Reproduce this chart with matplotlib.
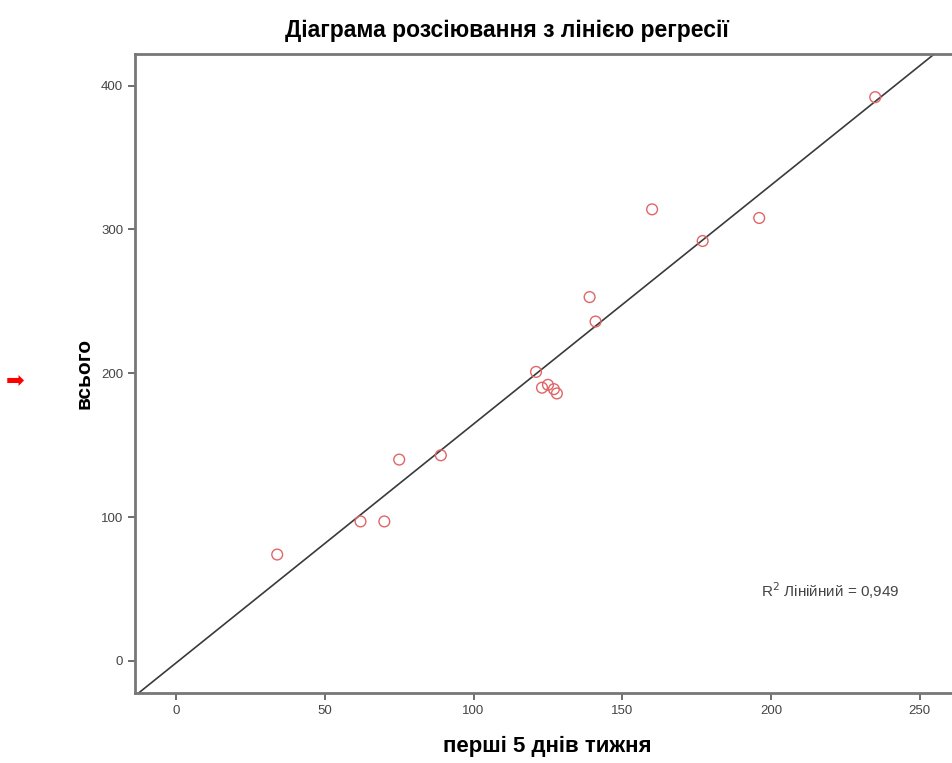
import numpy as np
import matplotlib
matplotlib.use("Agg")
import matplotlib.pyplot as plt

plt.rcParams['font.family'] = ['Liberation Sans', 'DejaVu Sans']

# Data
first5 = [34, 62, 70, 75, 89, 121, 123, 125, 127, 128, 139, 141, 160, 177, 196, 235]
total = [74, 97, 97, 140, 143, 201, 190, 192, 189, 186, 253, 236, 314, 292, 308, 392]
xticks = [0, 50, 100, 150, 200, 250]
yticks = [0, 100, 200, 300, 400]
r2_label = "R$^2$ Лінійний = 0,949"

fig = plt.figure(figsize=(9.52, 7.63), dpi=100)
ax = fig.add_axes([0.1418, 0.0917, 0.866, 0.8375])

x = np.array(first5, dtype=float)
y = np.array(total, dtype=float)
slope, intercept = np.polyfit(x, y, 1)

xlim = (-13.8, 263.3)
ylim = (-22.3, 422)
xx = np.array([xlim[0] - 5, xlim[1] + 5])
ax.plot(xx, slope * xx + intercept, color='#3a3a3a', lw=1.2, zorder=2)
ax.scatter(x, y, s=60, facecolors='none', edgecolors='#e06666', linewidths=1.0, zorder=3)

ax.set_xlim(*xlim)
ax.set_ylim(*ylim)
ax.set_xticks(xticks)
ax.set_yticks(yticks)
ax.tick_params(direction='out', length=5, width=1.2, colors='#555555', labelsize=9.5, labelcolor='#444444')

for s in ['left', 'bottom', 'top', 'right']:
    ax.spines[s].set_color('#777777')
    ax.spines[s].set_linewidth(2)

ax.set_xlabel("перші 5 днів тижня", fontsize=16, fontweight='bold', labelpad=14)
ax.set_ylabel("всього", fontsize=15, fontweight='bold', labelpad=5)
fig.text(0.533, 0.96, "Діаграма розсіювання з лінією регресії", fontsize=16.5,
         fontweight='bold', ha='center', va='center')

ax.text(220, 49, r2_label, fontsize=11, color='#444444', ha='center', va='center')

fig.text(0.016, 0.5, "➡", color='red', fontsize=16, ha='center', va='center', family='DejaVu Sans')

fig.savefig("out.png", dpi=100)
